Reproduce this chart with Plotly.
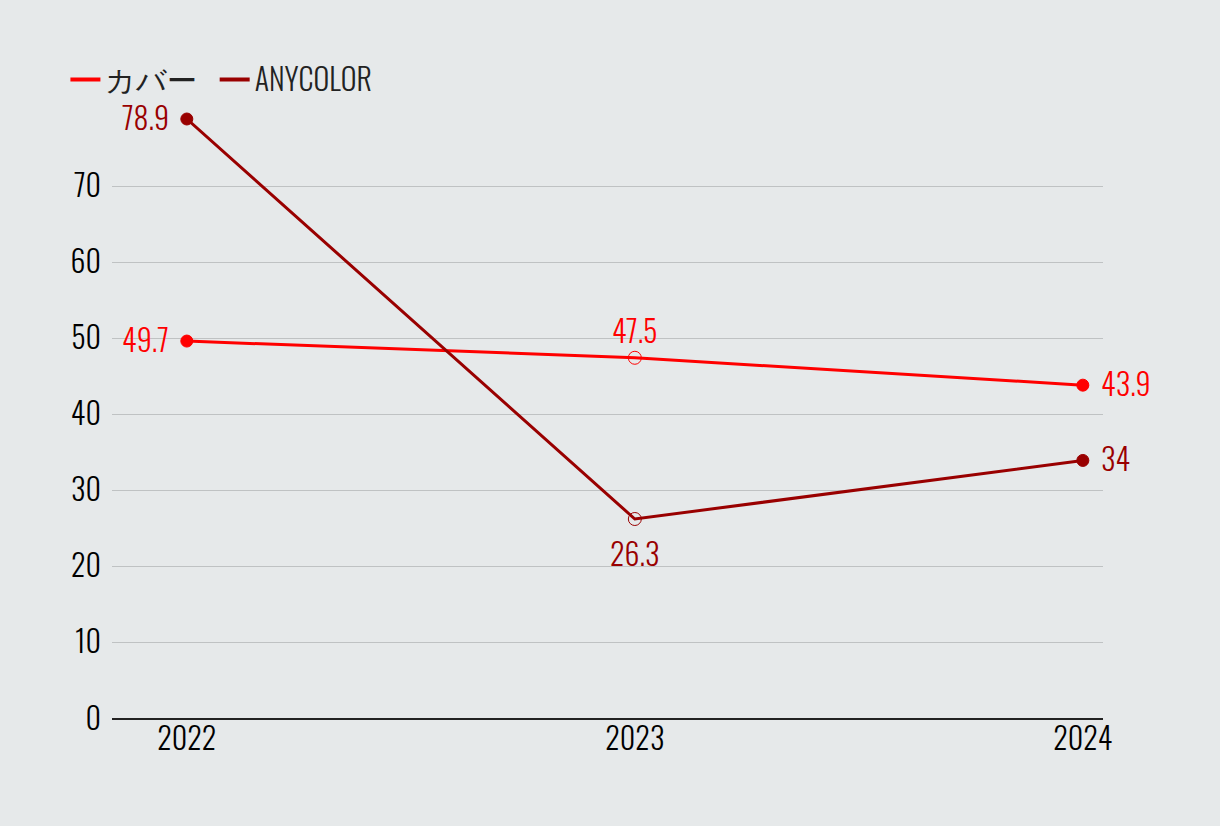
import plotly.graph_objects as go

years = ["2022", "2023", "2024"]
cover = [49.7, 47.5, 43.9]
anycolor = [78.9, 26.3, 34]
cover_labels = ["49.7", "47.5", "43.9"]
any_labels = ["78.9", "26.3", "34"]
y_ticks = [0, 10, 20, 30, 40, 50, 60, 70]

FONT = "Oswald, 'Liberation Sans Narrow', 'DejaVu Sans Condensed', 'Roboto', sans-serif"
RED = "#ff0000"
DARK = "#990000"
BG = "#e6e9ea"
FS = 30

# label placement per point: (xanchor, yanchor, xshift, yshift)
cover_place = [("right", "middle", -16, 3), ("center", "bottom", 0, 4), ("left", "middle", 16, 3)]
any_place = [("right", "middle", -16, 3), ("center", "top", 0, -9), ("left", "middle", 16, 3)]

fig = go.Figure()
annotations = []

def add_series(name, vals, labels, places, color):
    fig.add_trace(go.Scatter(
        x=years, y=vals, name=name, mode="lines+markers",
        line=dict(color=color, width=3),
        marker=dict(size=[12, 13, 12], opacity=1,
                    symbol=["circle", "circle-open", "circle"],
                    color=color, line=dict(width=1, color=color)),
        cliponaxis=False, showlegend=False,
    ))
    fig.add_trace(go.Scatter(
        x=[None], y=[None], name=name, mode="lines",
        line=dict(color=color, width=4), showlegend=True,
    ))
    for i, (yv, t, (xa, ya, xs, ys)) in enumerate(zip(vals, labels, places)):
        annotations.append(dict(
            x=i, y=yv, xref="x", yref="y", text=t, showarrow=False,
            xanchor=xa, yanchor=ya, xshift=xs, yshift=ys,
            font=dict(color=color, size=FS, family=FONT, weight=300),
        ))

add_series("カバー  ", cover, cover_labels, cover_place, RED)
add_series("ANYCOLOR", anycolor, any_labels, any_place, DARK)

fig.update_layout(
    width=1220, height=826,
    paper_bgcolor=BG, plot_bgcolor=BG,
    margin=dict(l=112, r=117, t=119, b=107),
    font=dict(family=FONT, size=FS, color="#000000", weight=300),
    showlegend=True,
    annotations=annotations,
    legend=dict(orientation="h", x=-0.047, xanchor="left", y=1.066, yanchor="middle",
                font=dict(size=FS, color="#222222", family=FONT, weight=300),
                bgcolor="rgba(0,0,0,0)", itemwidth=30),
    xaxis=dict(type="category", range=[-0.167, 2.045], showgrid=False,
               ticks="", tickfont=dict(size=FS, color="#000000", weight=300), showline=False),
    yaxis=dict(range=[0, 78.9], tickvals=y_ticks, showgrid=True, gridcolor="#bfc2c3",
               gridwidth=1, zeroline=True, zerolinecolor="#222222", zerolinewidth=2,
               ticks="", tickfont=dict(size=FS, color="#000000", weight=300), ticklabelstandoff=10),
)

fig.write_html("out.html", config={"displayModeBar": False},
               post_script="document.body.style.margin='0';document.body.style.background='#e6e9ea';")
